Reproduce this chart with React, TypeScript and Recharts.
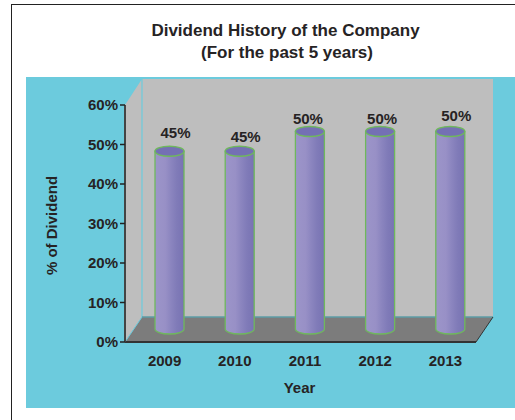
import React from 'react';
import { BarChart, Bar, XAxis, YAxis, LabelList, Label, usePlotArea } from 'recharts';

const years = ['2009', '2010', '2011', '2012', '2013'];
const dividends = [45, 45, 50, 50, 50];
const yTicks = [0, 10, 20, 30, 40, 50, 60];

const data = years.map((year, i) => ({ year, dividend: dividends[i] }));

// label placement around the top of each cylinder
const labelShiftX = [6, 6, -2, 2, 6];
const labelShiftY = [-19, -15, -13, -13, -16];

const FONT = '"Liberation Sans", Arial, sans-serif';
const INK = '#262324';
const DEPTH_X = 17;
const DEPTH_Y = 25;
const BAR_SHIFT_X = 9;
const BAR_SHIFT_Y = 13;

const Backdrop = () => {
  const plot = usePlotArea();
  if (!plot) return null;
  const left = plot.x;
  const right = plot.x + plot.width;
  const top = plot.y;
  const bottom = plot.y + plot.height;

  return (
    <g>
      <defs>
        <linearGradient id="cyl" x1="0" x2="1" y1="0" y2="0">
          <stop offset="0%" stopColor="#9c95c9" />
          <stop offset="35%" stopColor="#9890c6" />
          <stop offset="55%" stopColor="#8b85bf" />
          <stop offset="75%" stopColor="#807bb8" />
          <stop offset="100%" stopColor="#7873b3" />
        </linearGradient>
      </defs>
      {/* back wall */}
      <polygon
        points={`${left + DEPTH_X},${top - DEPTH_Y - 1} ${right + DEPTH_X},${top - DEPTH_Y - 1} ${right + DEPTH_X},${bottom - DEPTH_Y} ${left + DEPTH_X},${bottom - DEPTH_Y}`}
        fill="#bebebe"
      />
      {/* side wall */}
      <polygon
        points={`${left},${top} ${left + DEPTH_X},${top - DEPTH_Y - 1} ${left + DEPTH_X},${bottom - DEPTH_Y} ${left},${bottom}`}
        fill="#bebebe"
      />
      {/* floor */}
      <polygon
        points={`${left},${bottom} ${left + DEPTH_X},${bottom - DEPTH_Y} ${right + DEPTH_X},${bottom - DEPTH_Y} ${right},${bottom}`}
        fill="#7c7c7c"
      />
      <line x1={left + DEPTH_X} x2={left + DEPTH_X} y1={top - DEPTH_Y - 1} y2={bottom - DEPTH_Y} stroke="#6ccbdd" strokeWidth={1.2} />
      <line x1={left} x2={left + DEPTH_X} y1={bottom} y2={bottom - DEPTH_Y} stroke="#6ccbdd" strokeWidth={1} />
      <line x1={left + DEPTH_X} x2={right + DEPTH_X} y1={bottom - DEPTH_Y} y2={bottom - DEPTH_Y} stroke="#5c9ca6" strokeWidth={1.5} />
      <line x1={right} x2={right + DEPTH_X} y1={bottom} y2={bottom - DEPTH_Y} stroke="#333" strokeWidth={1} />
      <text x={285.5} y={36} textAnchor="middle" fontFamily={FONT} fontWeight="bold" fontSize={17} fill={INK}>
        Dividend History of the Company
      </text>
      <text x={287} y={58} textAnchor="middle" fontFamily={FONT} fontWeight="bold" fontSize={17} fill={INK}>
        (For the past 5 years)
      </text>
    </g>
  );
};

const Cylinder = (props: any) => {
  const { x, y, width, height } = props;
  const cx = x + width / 2 + BAR_SHIFT_X;
  const rx = width / 2;
  const top = y - BAR_SHIFT_Y;
  const bottom = y + height - BAR_SHIFT_Y;
  return (
    <g>
      <path
        d={`M${cx - rx},${top} L${cx - rx},${bottom} A${rx},5 0 0 0 ${cx + rx},${bottom} L${cx + rx},${top} Z`}
        fill="url(#cyl)"
        stroke="#6fb85c"
        strokeWidth={1.3}
      />
      <ellipse cx={cx} cy={top} rx={rx} ry={5} fill="#7470b4" stroke="#6fb85c" strokeWidth={1.3} />
    </g>
  );
};

const DividendLabel = (props: any) => {
  const { x, y, width, index, value } = props;
  return (
    <text
      x={x + width / 2 + BAR_SHIFT_X + labelShiftX[index]}
      y={y - BAR_SHIFT_Y + labelShiftY[index]}
      textAnchor="middle"
      dominantBaseline="central"
      fontFamily={FONT}
      fontWeight="bold"
      fontSize={15}
      fill={INK}
    >
      {value}%
    </text>
  );
};

const App = () => {
  return (
    <div style={{ position: 'absolute', left: 0, top: 0, width: 515, height: 420, background: '#fff', overflow: 'hidden' }}>
      <div style={{ position: 'absolute', left: 11, top: 4, width: 504, height: 416, borderTop: '1.5px solid #222', borderLeft: '1.5px solid #222', boxSizing: 'border-box' }} />
      <div style={{ position: 'absolute', left: 26, top: 77, width: 489, height: 331, background: '#6ccbdd' }} />
      <div style={{ position: 'absolute', left: 0, top: 0 }}>
        <BarChart
          width={515}
          height={420}
          data={data}
          margin={{ top: 105, right: 39, bottom: 0, left: 0 }}
          barSize={29}
        >
          <Backdrop />
          <XAxis
            dataKey="year"
            height={78}
            tickLine={false}
            axisLine={{ stroke: '#333', strokeWidth: 2 }}
            tick={{ fill: INK, fontFamily: FONT, fontWeight: 'bold', fontSize: 15, dx: 4.5, dy: 5 }}
          >
            <Label value="Year" position="insideBottom" offset={27} dx={-1} fill={INK} fontFamily={FONT} fontWeight="bold" fontSize={15} />
          </XAxis>
          <YAxis
            width={125}
            domain={[0, 60]}
            ticks={yTicks}
            tickFormatter={(v: number) => `${v}%`}
            tickSize={5}
            tickLine={{ stroke: '#222', strokeWidth: 1.5 }}
            axisLine={{ stroke: '#444', strokeWidth: 2 }}
            tick={{ fill: INK, fontFamily: FONT, fontWeight: 'bold', fontSize: 15 }}
          >
            <Label value="% of Dividend" angle={-90} position="insideLeft" offset={52} textAnchor="middle" dy={2} fill={INK} fontFamily={FONT} fontWeight="bold" fontSize={15} />
          </YAxis>
          <Bar dataKey="dividend" isAnimationActive={false} shape={<Cylinder />}>
            <LabelList dataKey="dividend" content={<DividendLabel />} />
          </Bar>
        </BarChart>
      </div>
    </div>
  );
};

export default App;
